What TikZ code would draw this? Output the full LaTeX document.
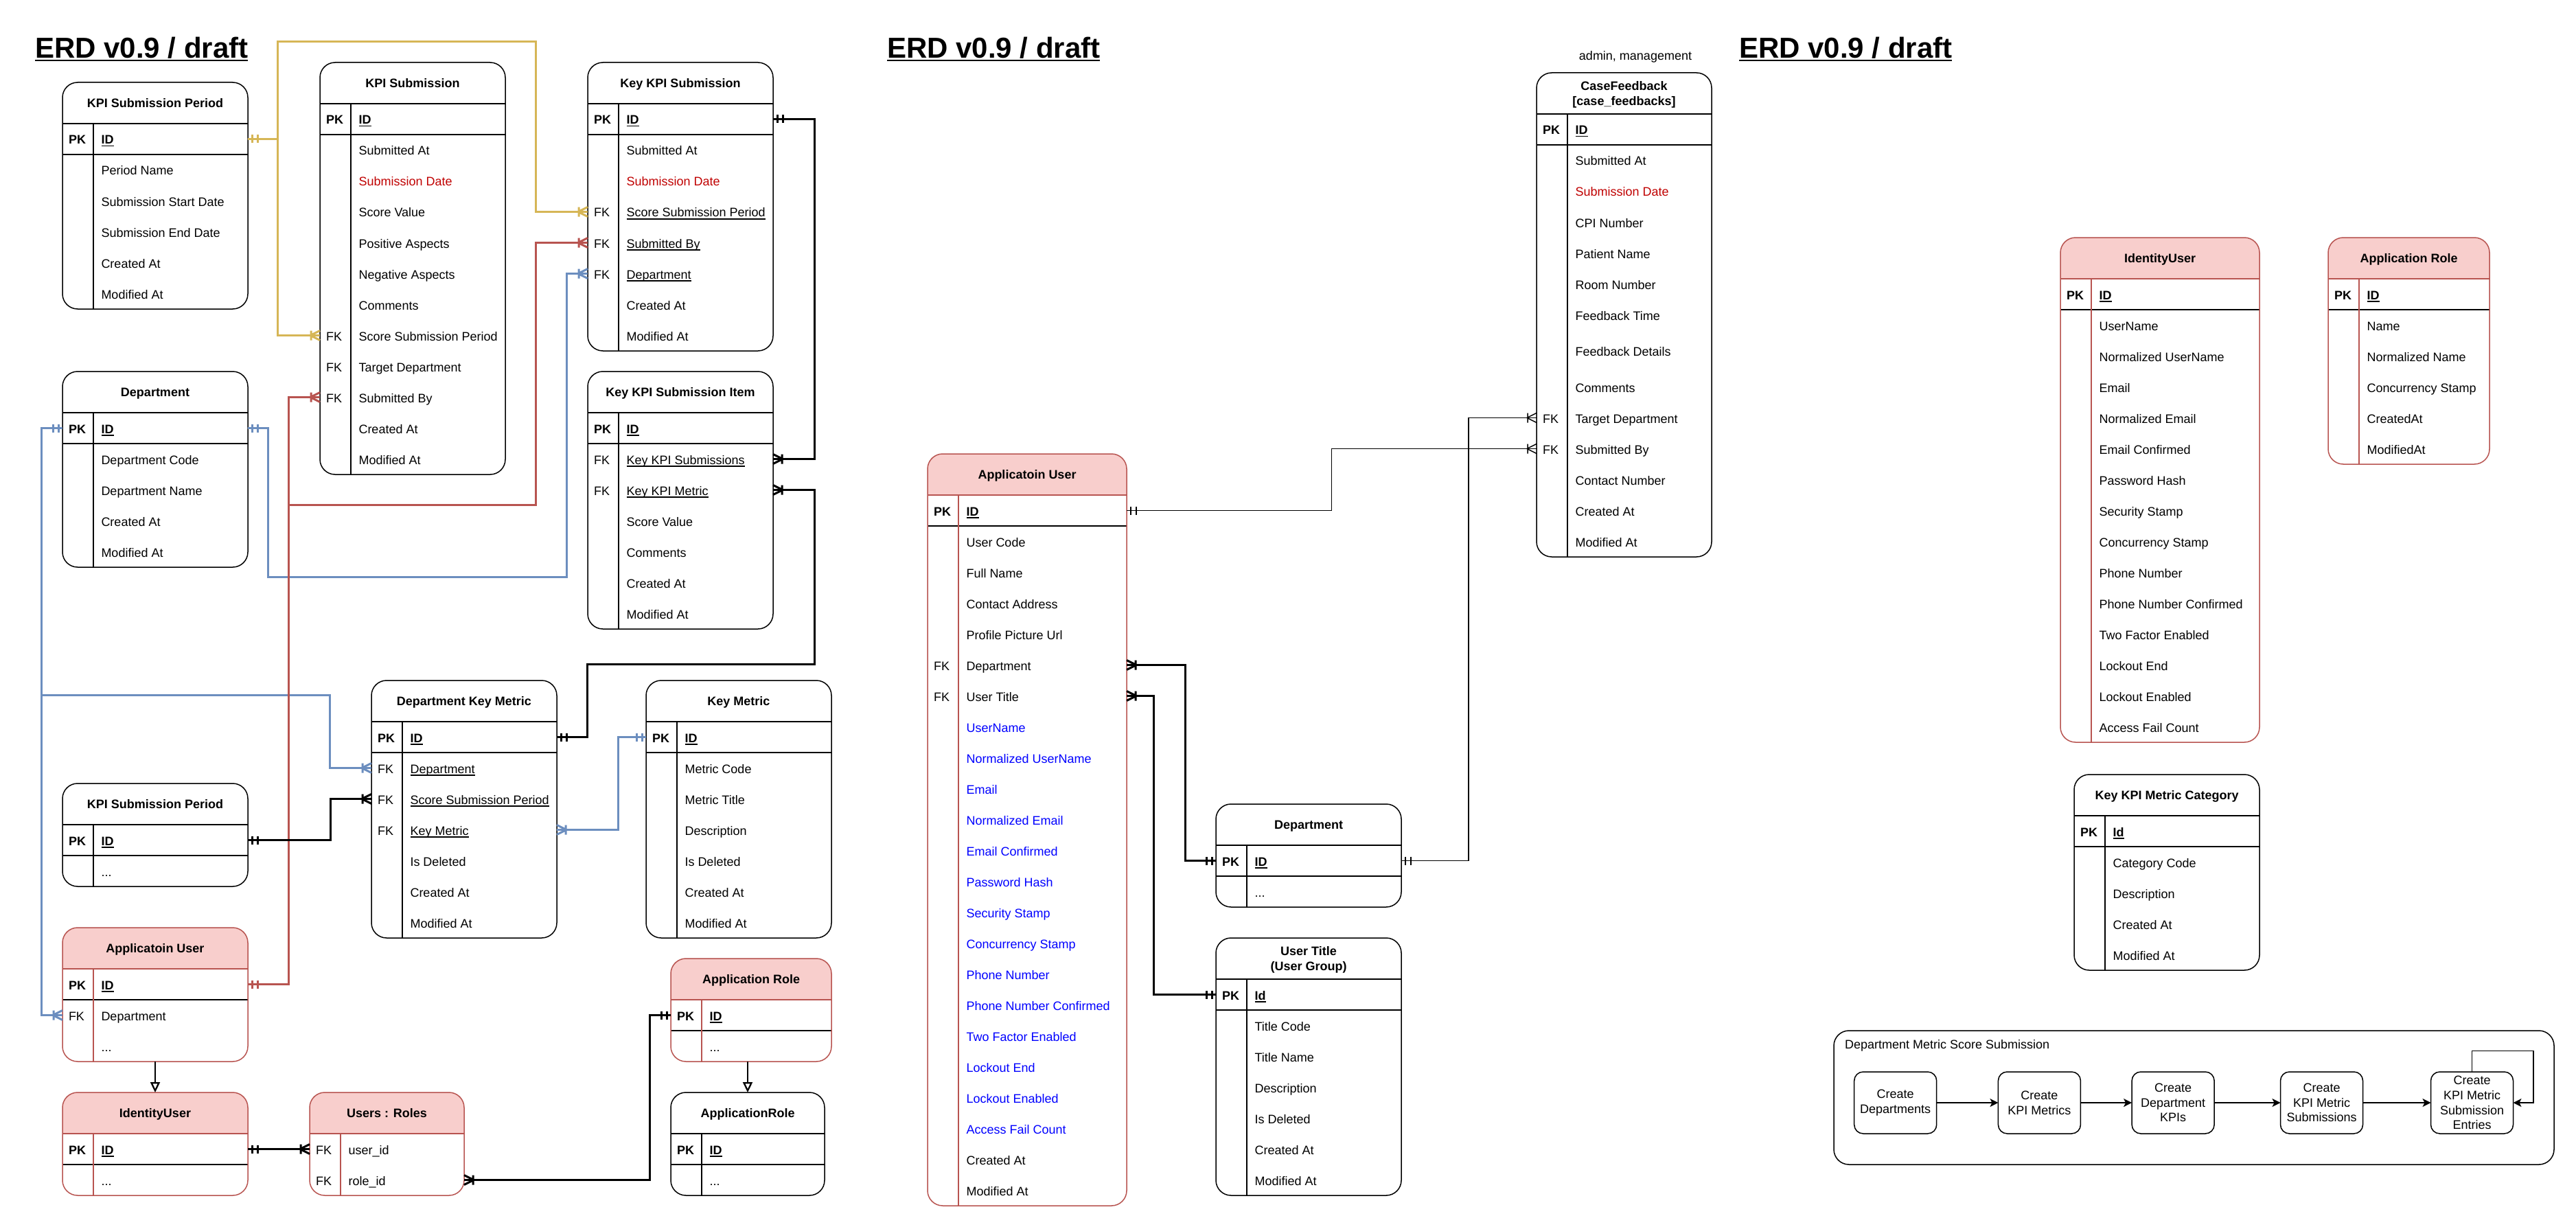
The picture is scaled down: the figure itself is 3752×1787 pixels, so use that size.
\documentclass[tikz,border=0pt]{standalone}
\usepackage{fontspec}
\setmainfont{Liberation Sans}
\usetikzlibrary{arrows.meta}
\definecolor{erpink}{HTML}{F8CECC}
\definecolor{erred}{HTML}{B85450}
\definecolor{cyel}{HTML}{D6B656}
\definecolor{cblu}{HTML}{6C8EBF}
\definecolor{txtred}{HTML}{C00000}
\definecolor{txtblue}{HTML}{0000FF}

\pgfdeclarearrow{
  name = ERone,
  parameters = {\the\pgfarrowlinewidth},
  setup code = {
    \pgfarrowssettipend{0pt}
    \pgfarrowssetlineend{0pt}
    \pgfarrowssetbackend{-15pt}
    \pgfarrowssetvisualbackend{-15pt}
    \pgfarrowshullpoint{0pt}{7pt}
    \pgfarrowshullpoint{0pt}{-7pt}
    \pgfarrowshullpoint{-15pt}{7pt}
    \pgfarrowshullpoint{-15pt}{-7pt}
  },
  drawing code = {
    \pgfpathmoveto{\pgfqpoint{-6pt}{-6pt}}
    \pgfpathlineto{\pgfqpoint{-6pt}{6pt}}
    \pgfpathmoveto{\pgfqpoint{-14pt}{-6pt}}
    \pgfpathlineto{\pgfqpoint{-14pt}{6pt}}
    \pgfusepathqstroke
  },
  defaults = {}
}
\pgfdeclarearrow{
  name = Crow,
  parameters = {\the\pgfarrowlinewidth},
  setup code = {
    \pgfarrowssettipend{0pt}
    \pgfarrowssetlineend{0pt}
    \pgfarrowssetbackend{-15pt}
    \pgfarrowssetvisualbackend{-15pt}
    \pgfarrowshullpoint{0pt}{8pt}
    \pgfarrowshullpoint{0pt}{-8pt}
    \pgfarrowshullpoint{-15pt}{8pt}
    \pgfarrowshullpoint{-15pt}{-8pt}
  },
  drawing code = {
    \pgfsetroundjoin
    \pgfpathmoveto{\pgfqpoint{0pt}{7pt}}
    \pgfpathlineto{\pgfqpoint{-14pt}{0pt}}
    \pgfpathlineto{\pgfqpoint{0pt}{-7pt}}
    \pgfpathmoveto{\pgfqpoint{-13pt}{7pt}}
    \pgfpathlineto{\pgfqpoint{-13pt}{-7pt}}
    \pgfusepathqstroke
  },
  defaults = {}
}

\newcommand\ERfs{\fontsize{18pt}{21.6pt}\selectfont}
\newcommand\ERfsb{\fontsize{18pt}{21.6pt}\selectfont\bfseries}
\newcommand\ERfst{\fontsize{42pt}{50pt}\selectfont\bfseries}
\newsavebox\ERulbox
\newcommand\ERul[1]{\sbox\ERulbox{#1}\rlap{\vrule height -2pt depth 3.5pt width \wd\ERulbox}\usebox\ERulbox}
\newcommand\ERulbig[1]{\sbox\ERulbox{#1}\rlap{\vrule height -2pt depth 4.5pt width \wd\ERulbox}\usebox\ERulbox}
\newcount\ERcnt
\def\ERrad{22pt}

% #1 name #2 x #3 ytop #4 width #5 header h #6 body h #7 0 black / 1 red / 2 red no PK #8 title
\newcommand\ERent[8]{%
  \def\curname{#1}\def\curx{#2}\def\curw{#4}%
  \pgfmathsetmacro\rowy{#3+#5}%
  \ERcnt=0\relax
  \ifnum#7>0 \def\entcol{erred}\else\def\entcol{black}\fi
  \pgfmathsetmacro\enth{#5+#6}%
  \node[fill=white, rounded corners=\ERrad, minimum width=#4pt, minimum height=\enth pt, anchor=north west] (#1) at (#2,#3) {};
  \ifnum#7>0
    \fill[erpink, rounded corners=\ERrad] (#2,#3) rectangle ({#2+#4},{#3+#5+25});
    \fill[white] (#2,{#3+#5}) rectangle ({#2+#4},{#3+#5+26});
  \fi
  \draw[\entcol, line width=1.5pt] (#2,{#3+#5}) -- ({#2+#4},{#3+#5});
  \ifnum#7<2
    \draw[black, line width=1.5pt] (#2,{#3+#5+45}) -- ({#2+#4},{#3+#5+45});
  \fi
  \draw[\entcol, line width=1.5pt] ({#2+45},{#3+#5}) -- ({#2+45},{#3+#5+#6});
  \draw[\entcol, line width=1.5pt, rounded corners=\ERrad] (#2,#3) rectangle ({#2+#4},{#3+#5+#6});
  \node[ttl] (#1-title) at ({#2+#4/2},{#3+#5/2}) {#8};
}
\newcommand\ERrow[3]{%
  \pgfmathsetmacro\rowc{\rowy+#3/2}%
  \node[minimum width=\curw pt, minimum height=#3pt] (\curname-\the\ERcnt) at ({\curx+\curw/2},\rowc) {};
  \node[lbl] (\curname-\the\ERcnt-k) at ({\curx+9},{\rowc+7.5}) {#1};
  \node[lbl] (\curname-\the\ERcnt-v) at ({\curx+56.5},{\rowc+7.5}) {#2};
  \pgfmathsetmacro\rowy{\rowy+#3}%
  \advance\ERcnt by 1\relax
}
\newcommand\ERpk[1][ID]{\ERrow{\textbf{PK}}{\textbf{\ERul{#1}}}{45}}
\newcommand\ERf[1]{\ERrow{}{#1}{45}}
\newcommand\ERk[1]{\ERrow{FK}{#1}{45}}
\newcommand\ERb[1]{\ERf{\color{txtblue}#1}}

\begin{document}
\begin{tikzpicture}[x=1pt, y=-1pt,
  every node/.style={inner sep=0pt, outer sep=0pt},
  lbl/.style={anchor=base west, font=\ERfs},
  ttl/.style={font=\ERfsb, text height=16pt, text depth=3.5pt, anchor=center},
  ttl2/.style={font=\ERfsb, align=center, anchor=center},
  conn/.style={line width=3pt},
  connthin/.style={line width=1.5pt},
  gen/.style={line width=2.25pt, -{Triangle[open, length=15pt, width=14pt]}},
  flowbox/.style={draw, line width=1.5pt, rounded corners=13pt, minimum width=120pt, minimum height=90pt, align=center, font=\ERfs},
  flowarr/.style={line width=1.5pt, -{Stealth[length=12pt, width=12pt, inset=3pt]}}
]
\fill[white] (0,0) rectangle (3752,1787);
\useasboundingbox (0,0) rectangle (3752,1787);

% titles
\node[anchor=base west, font=\ERfst] (erd1) at (51,85) {\ERulbig{ERD v0.9 / draft}};
\node[anchor=base west, font=\ERfst] (erd2) at (1292,85) {\ERulbig{ERD v0.9 / draft}};
\node[anchor=base west, font=\ERfst] (erd3) at (2533,85) {\ERulbig{ERD v0.9 / draft}};

% ===== left section =====
\ERent{ksp1}{91}{120}{270}{60}{270}{0}{KPI Submission Period}
\ERpk
\ERf{Period Name}
\ERf{Submission Start Date}
\ERf{Submission End Date}
\ERf{Created At}
\ERf{Modified At}

\ERent{ks}{466}{91}{270}{60}{540}{0}{KPI Submission}
\ERpk
\ERf{Submitted At}
\ERf{\color{txtred}Submission Date}
\ERf{Score Value}
\ERf{Positive Aspects}
\ERf{Negative Aspects}
\ERf{Comments}
\ERk{Score Submission Period}
\ERk{Target Department}
\ERk{Submitted By}
\ERf{Created At}
\ERf{Modified At}

\ERent{kks}{856}{91}{270}{60}{360}{0}{Key KPI Submission}
\ERpk
\ERf{Submitted At}
\ERf{\color{txtred}Submission Date}
\ERk{\ERul{Score Submission Period}}
\ERk{\ERul{Submitted By}}
\ERk{\ERul{Department}}
\ERf{Created At}
\ERf{Modified At}

\ERent{kksi}{856}{541}{270}{60}{315}{0}{Key KPI Submission Item}
\ERpk
\ERk{\ERul{Key KPI Submissions}}
\ERk{\ERul{Key KPI Metric}}
\ERf{Score Value}
\ERf{Comments}
\ERf{Created At}
\ERf{Modified At}

\ERent{dep1}{91}{541}{270}{60}{225}{0}{Department}
\ERpk
\ERf{Department Code}
\ERf{Department Name}
\ERf{Created At}
\ERf{Modified At}

\ERent{dkm}{541}{991}{270}{60}{315}{0}{Department Key Metric}
\ERpk
\ERk{\ERul{Department}}
\ERk{\ERul{Score Submission Period}}
\ERk{\ERul{Key Metric}}
\ERf{Is Deleted}
\ERf{Created At}
\ERf{Modified At}

\ERent{km}{941}{991}{270}{60}{315}{0}{Key Metric}
\ERpk
\ERf{Metric Code}
\ERf{Metric Title}
\ERf{Description}
\ERf{Is Deleted}
\ERf{Created At}
\ERf{Modified At}

\ERent{ksp2}{91}{1141}{270}{60}{90}{0}{KPI Submission Period}
\ERpk
\ERf{...}

\ERent{au1}{91}{1351}{270}{60}{135}{1}{Applicatoin User}
\ERpk
\ERk{Department}
\ERf{...}

\ERent{iu1}{91}{1591}{270}{60}{90}{1}{IdentityUser}
\ERpk
\ERf{...}

\ERent{ur}{451}{1591}{225}{60}{90}{2}{Users : Roles}
\ERk{user\_id}
\ERk{role\_id}

\ERent{ar1}{977}{1396}{234}{60}{90}{1}{Application Role}
\ERpk
\ERf{...}

\ERent{arole}{977}{1591}{224}{60}{90}{0}{ApplicationRole}
\ERpk
\ERf{...}

% ===== middle section =====
\ERent{au2}{1351}{661}{290}{60}{1035}{1}{Applicatoin User}
\ERpk
\ERf{User Code}
\ERf{Full Name}
\ERf{Contact Address}
\ERf{Profile Picture Url}
\ERk{Department}
\ERk{User Title}
\ERb{UserName}
\ERb{Normalized UserName}
\ERb{Email}
\ERb{Normalized Email}
\ERb{Email Confirmed}
\ERb{Password Hash}
\ERb{Security Stamp}
\ERb{Concurrency Stamp}
\ERb{Phone Number}
\ERb{Phone Number Confirmed}
\ERb{Two Factor Enabled}
\ERb{Lockout End}
\ERb{Lockout Enabled}
\ERb{Access Fail Count}
\ERf{Created At}
\ERf{Modified At}

\ERent{dep2}{1771}{1171}{270}{60}{90}{0}{Department}
\ERpk
\ERf{...}

\ERent{ut}{1771}{1366}{270}{60}{315}{0}{}
\node[ttl2] (ut-head) at (1906,1398) {User Title\\(User Group)};
\ERpk[Id]
\ERf{Title Code}
\ERf{Title Name}
\ERf{Description}
\ERf{Is Deleted}
\ERf{Created At}
\ERf{Modified At}

\node[anchor=base, font=\ERfs] (adm) at (2382,88) {admin, management};
\ERent{cf}{2238}{106}{255}{60}{645}{0}{}
\node[ttl2] (cf-head) at (2365.5,138) {CaseFeedback\\{[case\_feedbacks]}};
\ERpk
\ERf{Submitted At}
\ERf{\color{txtred}Submission Date}
\ERf{CPI Number}
\ERf{Patient Name}
\ERf{Room Number}
\ERf{Feedback Time}
\ERrow{}{Feedback Details}{60}
\ERf{Comments}
\ERk{Target Department}
\ERk{Submitted By}
\ERf{Contact Number}
\ERf{Created At}
\ERf{Modified At}

% ===== right section =====
\ERent{iu2}{3001}{346}{290}{60}{675}{1}{IdentityUser}
\ERpk
\ERf{UserName}
\ERf{Normalized UserName}
\ERf{Email}
\ERf{Normalized Email}
\ERf{Email Confirmed}
\ERf{Password Hash}
\ERf{Security Stamp}
\ERf{Concurrency Stamp}
\ERf{Phone Number}
\ERf{Phone Number Confirmed}
\ERf{Two Factor Enabled}
\ERf{Lockout End}
\ERf{Lockout Enabled}
\ERf{Access Fail Count}

\ERent{ar2}{3391}{346}{235}{60}{270}{1}{Application Role}
\ERpk
\ERf{Name}
\ERf{Normalized Name}
\ERf{Concurrency Stamp}
\ERf{CreatedAt}
\ERf{ModifiedAt}

\ERent{kkmc}{3021}{1128}{270}{60}{225}{0}{Key KPI Metric Category}
\ERpk[Id]
\ERf{Category Code}
\ERf{Description}
\ERf{Created At}
\ERf{Modified At}

% flow
\node[draw, line width=1.5pt, rounded corners=22pt, minimum width=1049pt, minimum height=195pt, anchor=north west] (flow) at (2671,1501) {};
\node[anchor=base west, font=\ERfs] (flowlbl) at (2687,1527) {Department Metric Score Submission};
\node[flowbox] (f1) at (2760.7,1606) {Create\\Departments};
\node[flowbox] (f2) at (2970.4,1606) {Create\\KPI Metrics};
\node[flowbox] (f3) at (3165.1,1606) {Create\\Department\\KPIs};
\node[flowbox] (f4) at (3381.5,1606) {Create\\KPI Metric\\Submissions};
\node[flowbox] (f5) at (3600.5,1606) {Create\\KPI Metric\\Submission\\Entries};
\draw[flowarr] (f1) -- (f2);
\draw[flowarr] (f2) -- (f3);
\draw[flowarr] (f3) -- (f4);
\draw[flowarr] (f4) -- (f5);
\draw[flowarr] (f5.north) |- (3690,1530.5) |- (f5.east);

% ===== connectors left =====
\draw[conn, cyel, {ERone}-{Crow}] (ksp1-0.east) -| (404,61) -| (780,308.5) -- (kks-3.west);
\draw[conn, cyel, {ERone}-{Crow}] (ksp1-0.east) -- ++(43,0) |- (ks-7.west);
\draw[conn, cblu, {ERone}-{Crow}] (dep1-0.east) -- ++(29,0) |- (825.5,840) |- (kks-5.west);
\draw[conn, cblu, {ERone}-{Crow}] (dep1-0.west) -- ++(-31,0) |- (480,1012.5) |- (dkm-1.west);
\draw[conn, cblu, {ERone}-{Crow}] (dep1-0.west) -- ++(-31,0) |- (au1-1.west);
\draw[conn, erred, {ERone}-{Crow}] (au1-0.east) -- ++(59,0) |- (ks-9.west);
\draw[conn, erred, {ERone}-{Crow}] (au1-0.east) -- ++(59,0) |- (780,735) |- (kks-4.west);
\draw[conn, {ERone}-{Crow}] (kks-0.east) -- ++(60.5,0) |- (kksi-1.east);
\draw[conn, {Crow}-{ERone}] (kksi-2.east) -- ++(60.5,0) |- (855,967) |- (dkm-0.east);
\draw[conn, cblu, {ERone}-{Crow}] (km-0.west) -- ++(-40.5,0) |- (dkm-3.east);
\draw[conn, {ERone}-{Crow}] (ksp2-0.east) -- ++(120,0) |- (dkm-2.west);
\draw[gen] (au1.south) -- (iu1.north);
\draw[conn, {ERone}-{Crow}] (iu1-0.east) -- (ur-0.west);
\draw[conn, {Crow}-{ERone}] (ur-1.east) -- ++(270.5,0) |- (ar1-0.west);
\draw[gen] (arole.north |- ar1.south) -- (arole.north);

% ===== connectors middle =====
\draw[connthin, {ERone}-{Crow}] (au2-0.east) -- ++(298.5,0) |- (cf-10.west);
\draw[connthin, {ERone}-{Crow}] (dep2-0.east) -- ++(98,0) |- (cf-9.west);
\draw[conn, {Crow}-{ERone}] (au2-5.east) -- ++(85,0) |- (dep2-0.west);
\draw[conn, {Crow}-{ERone}] (au2-6.east) -- ++(39.5,0) |- (ut-0.west);
\end{tikzpicture}
\end{document}
